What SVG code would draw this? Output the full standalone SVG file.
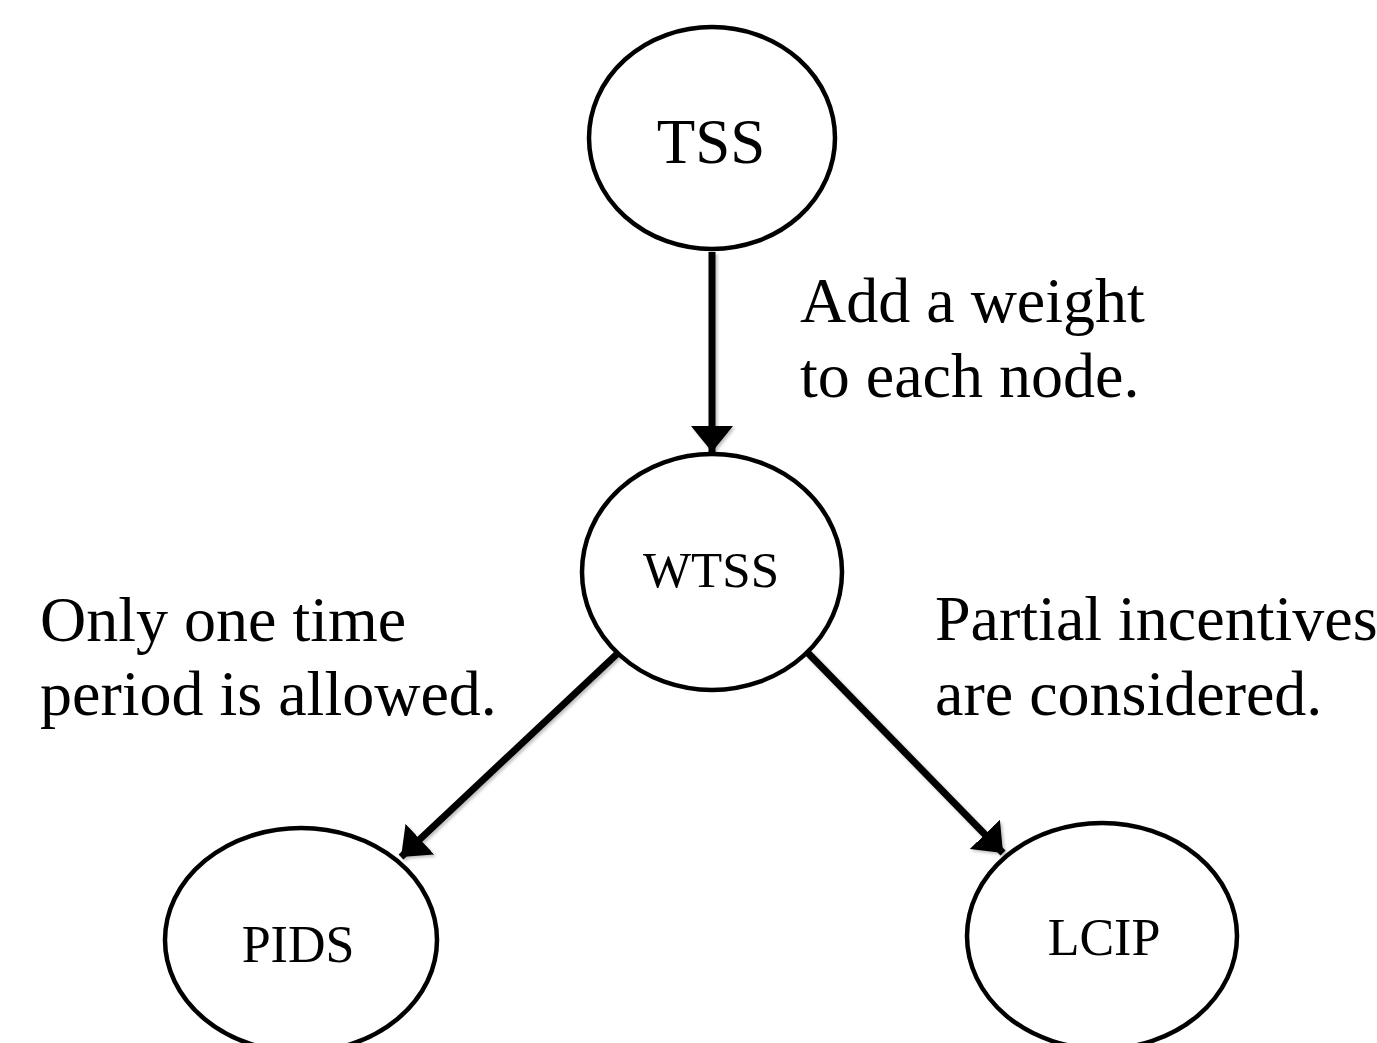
<svg xmlns="http://www.w3.org/2000/svg" width="1377" height="1043" viewBox="0 0 1377 1043">
  <style>
    .node { fill: #ffffff; stroke: #000000; stroke-width: 4.5; }
    .lbl { font-family: "Liberation Serif", "Times New Roman", serif; fill: #000000; text-anchor: middle; }
    .note { font-family: "Liberation Serif", "Times New Roman", serif; fill: #000000; font-size: 64px; }
    .edge { stroke: #000000; stroke-width: 7; fill: none; marker-end: url(#head); }
  </style>
  <defs>
    <marker id="head" markerUnits="userSpaceOnUse" markerWidth="27" markerHeight="42" refX="26" refY="21" orient="auto">
      <path d="M0,0 L26,21 L0,42 Z" fill="#000000"/>
    </marker>
    <!-- faint drop shadow under the arrows; user-space region so vertical lines are not clipped -->
    <filter id="soft" filterUnits="userSpaceOnUse" x="0" y="0" width="1377" height="1043">
      <feDropShadow dx="2" dy="2" stdDeviation="1.5" flood-color="#000000" flood-opacity="0.25"/>
    </filter>
  </defs>
  <rect width="1377" height="1043" fill="#ffffff"/>

  <g id="connectors" filter="url(#soft)">
    <line class="edge" x1="712" y1="252" x2="712" y2="452"/>
    <line class="edge" x1="618" y1="653" x2="401" y2="857"/>
    <line class="edge" x1="807" y1="652" x2="1003" y2="853"/>
  </g>

  <g id="node-tss">
    <ellipse class="node" cx="712" cy="138" rx="123" ry="111"/>
    <text class="lbl" x="711" y="163" font-size="63">TSS</text>
  </g>
  <g id="node-wtss">
    <ellipse class="node" cx="712" cy="572" rx="130" ry="118"/>
    <text class="lbl" x="711" y="587" font-size="51">WTSS</text>
  </g>
  <g id="node-pids">
    <ellipse class="node" cx="301" cy="940" rx="136" ry="112"/>
    <text class="lbl" x="298" y="962" font-size="52">PIDS</text>
  </g>
  <g id="node-lcip">
    <ellipse class="node" cx="1102" cy="936" rx="135" ry="113"/>
    <text class="lbl" x="1104" y="955" font-size="52">LCIP</text>
  </g>

  <g id="notes">
    <text class="note" x="800" y="322">Add a weight</text>
    <text class="note" x="800" y="397">to each node.</text>
    <text class="note" x="40" y="641">Only one time</text>
    <text class="note" x="40" y="715">period is allowed.</text>
    <text class="note" x="935" y="640">Partial incentives</text>
    <text class="note" x="935" y="715">are considered.</text>
  </g>
</svg>
